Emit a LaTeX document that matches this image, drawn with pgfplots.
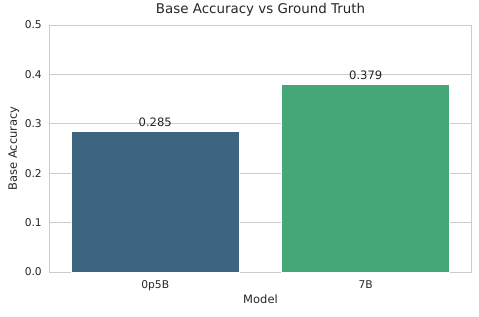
\documentclass[border=0pt]{standalone}
\usepackage{pgfplots}
\pgfplotsset{compat=1.18}
\usepackage{fontspec}
\setmainfont{DejaVu Sans}
\definecolor{c1}{HTML}{3E6580}
\definecolor{c2}{HTML}{45A778}
\definecolor{gridc}{HTML}{CCCCCC}
\definecolor{txt}{HTML}{262626}
\begin{document}
\begin{tikzpicture}
\useasboundingbox (0,0) rectangle (479pt,316pt);
\begin{axis}[
 at={(50pt,44pt)}, anchor=south west,
 scale only axis, width=421pt, height=247pt,
 xmin=-0.5, xmax=1.5, ymin=0, ymax=0.5,
 xtick={0,1}, xticklabels={0p5B,7B},
 ytick={0,0.1,0.2,0.3,0.4,0.5},
 yticklabel style={/pgf/number format/fixed,/pgf/number format/precision=1,/pgf/number format/fixed zerofill, anchor=east, inner sep=0pt, xshift=-8pt},
 xticklabel style={anchor=base, inner sep=0pt, yshift=-16.5pt},
 /pgf/number format/assume math mode=true,
 major tick length=0pt, tick style={draw=none},
 ymajorgrids, grid style={gridc, line width=0.8pt},
 axis line style={gridc, line width=1pt},
 ticklabel style={font=\fontsize{10.7}{13}\selectfont, text=txt},
 xlabel={Model}, ylabel={Base Accuracy},
 xlabel style={at={(axis description cs:0.5,0)}, anchor=base, yshift=-31pt, inner sep=0pt},
 ylabel style={at={(axis description cs:0,0.5)}, anchor=center, yshift=36pt, inner sep=0pt},
 label style={font=\fontsize{11.5}{14}\selectfont, text=txt},
 title={Base Accuracy vs Ground Truth},
 title style={at={(axis description cs:0.5,1)}, anchor=base, yshift=5.7pt, inner sep=0pt, font=\fontsize{13.4}{16}\selectfont, text=txt},
 ybar, bar width=168pt, bar shift=0pt,
 nodes near coords={\pgfmathprintnumber[fixed,precision=3,fixed zerofill,assume math mode=true]{\pgfplotspointmeta}},
 nodes near coords style={anchor=base, inner sep=0pt, yshift=5pt, font=\fontsize{11.6}{14}\selectfont, text=txt},
]
\addplot[fill=c1, draw=white, line width=0.6pt] coordinates {(0,0.285)};
\addplot[fill=c2, draw=white, line width=0.6pt] coordinates {(1,0.379)};
\end{axis}
\end{tikzpicture}
\end{document}
